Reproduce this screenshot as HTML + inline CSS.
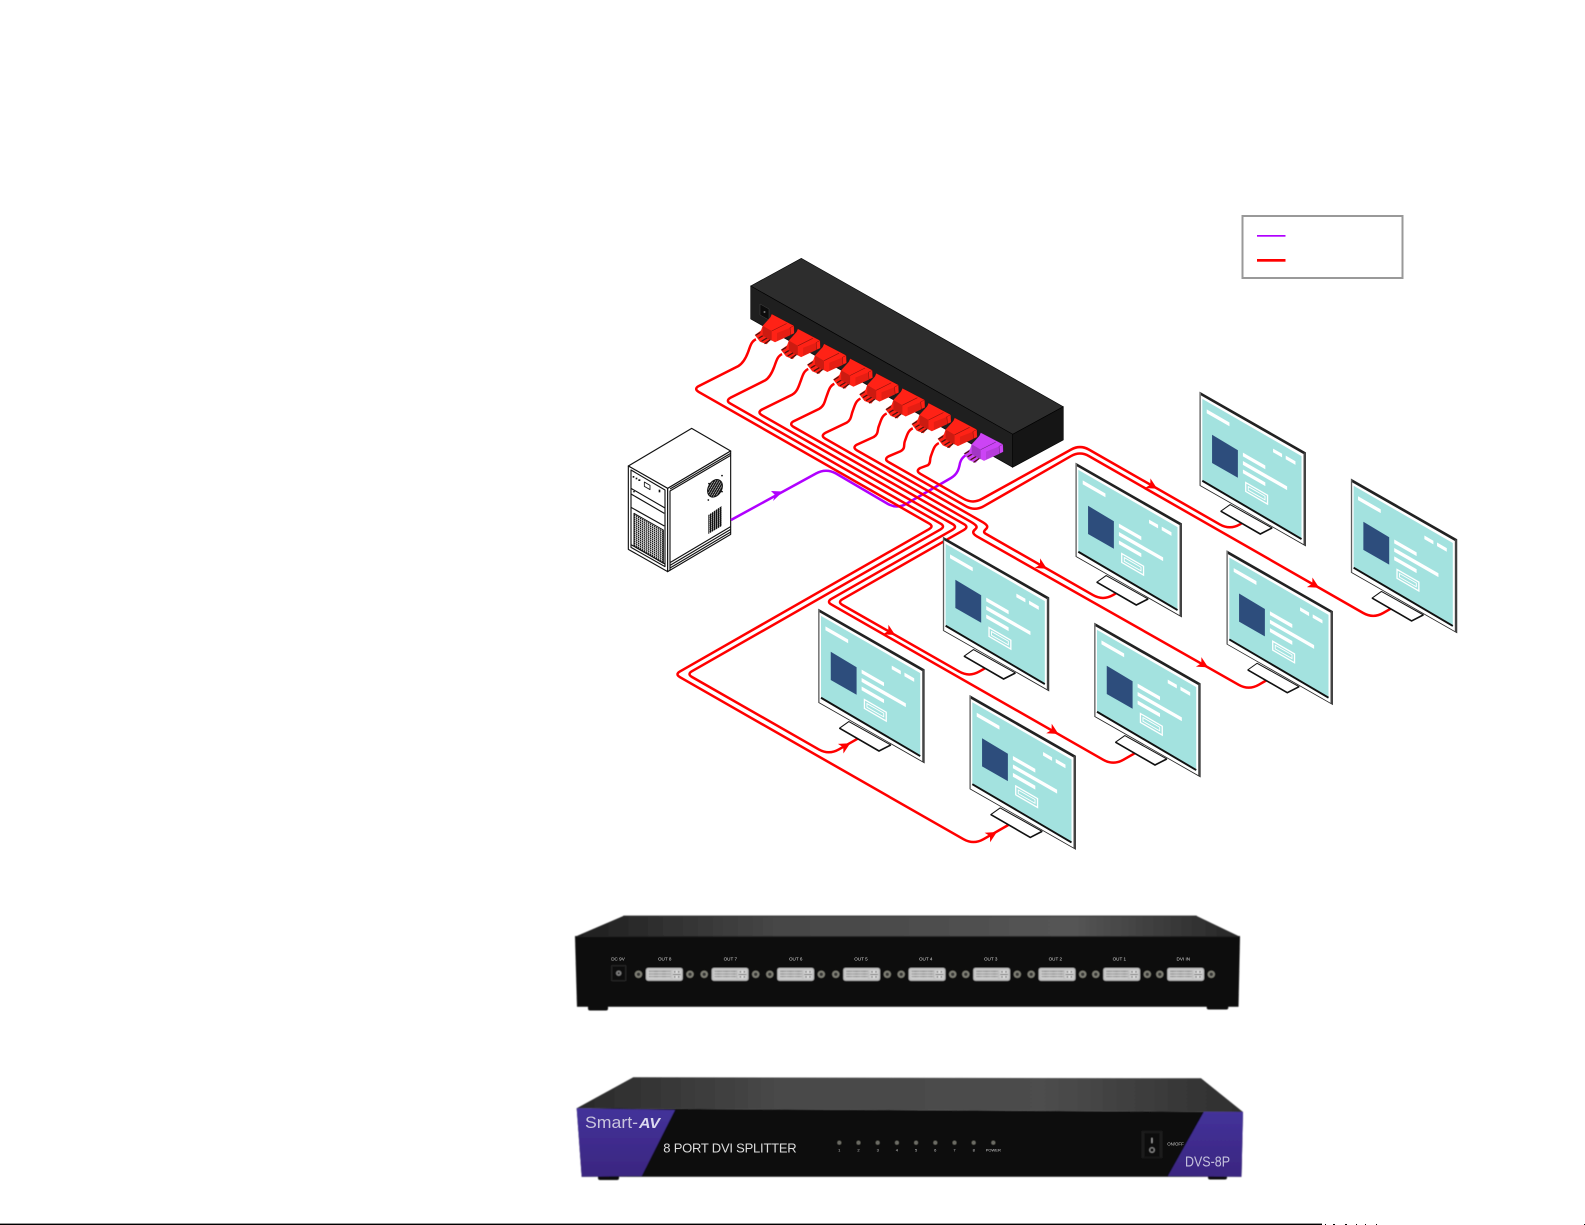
<!DOCTYPE html>
<html><head><meta charset="utf-8"><title>8 Port DVI Splitter</title>
<style>html,body{margin:0;padding:0;background:#fff}svg{display:block}text{font-family:"Liberation Sans",sans-serif}</style></head>
<body>
<svg xmlns="http://www.w3.org/2000/svg" width="1585" height="1225" viewBox="0 0 1585 1225">
<defs>
<filter id="soft" x="-2%" y="-5%" width="104%" height="110%"><feGaussianBlur stdDeviation=".45"/></filter>
<pattern id="grid" width="6" height="6" patternUnits="userSpaceOnUse" patternTransform="skewY(30)"><rect width="6" height="6" fill="#fff"/><rect width="4.3" height="4.3" fill="#111"/></pattern>
<pattern id="grid2" width="6" height="6" patternUnits="userSpaceOnUse" patternTransform="skewY(-30)"><rect width="6" height="6" fill="#fff"/><rect width="4.3" height="6" fill="#111"/><rect y="3" width="6" height="1" fill="#111"/></pattern>
<pattern id="pins" width="1.6" height="2.6" patternUnits="userSpaceOnUse"><rect width="1.6" height="2.6" fill="#ddd"/><rect width=".8" height="1.6" fill="#444"/></pattern>

<g id="monitor">
<polygon points="30,111.7 20.7,118.3 60,141 71.7,135" fill="#fff" stroke="#111" stroke-width="1" stroke-linejoin="round"/>
<polyline points="20.7,118.3 60,141 71.7,135" fill="none" stroke="#111" stroke-width="1.6" stroke-linejoin="round"/>
<polygon points="0,0 105,60 105,152.7 0,92.7" fill="#fff" stroke="#222" stroke-width=".8"/>
<polygon points="0,0 105,60 105,62.6 0,2.6" fill="#222"/>
<polygon points="103,60 105,60 105,152.7 103,151.5" fill="#444"/>
<polygon points="0,0 .9,0 .9,93 0,92.7" fill="#777"/>
<polygon points="2.3,6.5 101,63.5 101,147 2.3,89" fill="#a3e2df"/>
<line x1="2.3" y1="88" x2="101" y2="146" stroke="#111" stroke-width="1.9"/>
<polygon points="12,42.3 37.7,57.7 37.7,85 12,70.3" fill="#2d4d7c"/>
<polygon points="6.7,17 29.3,30 29.3,33.8 6.7,20.8" fill="#fff"/>
<polygon points="42.7,60 65,72.8 65,76.6 42.7,63.8" fill="#fff"/>
<polygon points="42.7,68.4 86.7,93.6 86.7,97.4 42.7,72.2" fill="#fff"/>
<polygon points="42.7,76.8 65,89.6 65,93.4 42.7,80.6" fill="#fff"/>
<polygon points="72.7,56 81.7,61.2 81.7,64.8 72.7,59.6" fill="#fff"/>
<polygon points="85.3,63 95,68.6 95,72.2 85.3,66.6" fill="#fff"/>
<polygon points="45.5,89.8 67.2,102.4 67.2,111.2 45.5,98.6" fill="none" stroke="#fff" stroke-width="1.3"/>
<polygon points="48,93.8 64.7,103.4 64.7,107 48,97.4" fill="none" stroke="#fff" stroke-width=".9"/>
</g>

<g id="conn">
<polygon points="4.7,30 11.3,25.3 20,30.7 20.7,34.7 16.7,39.3 10,36.7" fill="currentColor"/>
<g stroke="#4a1510" stroke-width="1.3" stroke-linecap="round"><line x1="6" y1="30" x2="11" y2="27"/><line x1="9" y1="33" x2="14" y2="30"/><line x1="12" y1="36" x2="17" y2="33"/><line x1="15" y1="38.5" x2="20" y2="35"/></g>
<polygon points="21.7,9 44,20.7 44.3,28.3 40.7,30 38,24 20,13" fill="currentColor" stroke="#000" stroke-opacity=".4" stroke-width=".4"/>
<polygon points="20.7,12 40,22.7 40.7,30 25,37.3 12.7,30.7 10,28.3 12.7,20.7" fill="currentColor"/>
<polygon points="12.7,20.7 21.7,26 21.7,36 12.7,30.7" fill="#000" opacity=".2"/>
<polygon points="27,28 40.3,22.8 40.7,30 27,36" fill="#000" opacity=".1"/>
<polyline points="21.7,26 36.7,18.5" stroke="#000" stroke-opacity=".45" stroke-width=".6" fill="none"/>
<polyline points="44,20.7 40,22.7 40.7,30" stroke="#000" stroke-opacity=".45" stroke-width=".5" fill="none"/>
</g>

<g id="port">
<rect width="36.7" height="12.7" rx="2.2" fill="#c4c4c4"/>
<rect x="2.5" y="2.4" width="22" height="8" fill="url(#pins)"/>
<rect x="27" y="2.4" width="7.5" height="8" fill="#ddd"/>
<rect x="27" y="6" width="7.5" height=".9" fill="#444"/>
<rect x="28" y="3.2" width="1.4" height="1.4" fill="#444"/><rect x="32" y="3.2" width="1.4" height="1.4" fill="#444"/>
<rect x="28" y="8.2" width="1.4" height="1.4" fill="#444"/><rect x="32" y="8.2" width="1.4" height="1.4" fill="#444"/>
<circle cx="-7.5" cy="6.3" r="3.6" fill="#85857a"/><circle cx="-7.5" cy="6.3" r="1.8" fill="#333"/>
<circle cx="44" cy="6.3" r="3.6" fill="#85857a"/><circle cx="44" cy="6.3" r="1.8" fill="#333"/>
</g>
<g id="led"><circle cx="0" cy="0" r="1.7" fill="#8a8a80"/><circle cx="0" cy="0" r=".7" fill="#333"/></g>
<linearGradient id="topg" x1="0" x2="1" y1="0" y2="0"><stop offset="0" stop-color="#2a2a2a"/><stop offset=".3" stop-color="#484848"/><stop offset=".7" stop-color="#4d4d4d"/><stop offset="1" stop-color="#2e2e2e"/></linearGradient>
<linearGradient id="topb" x1="0" x2="1" y1="0" y2="0"><stop offset="0" stop-color="#1e1e1e"/><stop offset=".3" stop-color="#464646"/><stop offset=".75" stop-color="#555"/><stop offset="1" stop-color="#262626"/></linearGradient>
<linearGradient id="pur" x1="0" x2="0" y1="0" y2="1"><stop offset="0" stop-color="#44329a"/><stop offset="1" stop-color="#3a2680"/></linearGradient>
</defs>

<!-- legend -->
<rect x="1242.5" y="216" width="160" height="62" fill="#fff" stroke="#999" stroke-width="2"/>
<rect x="1257" y="235" width="28.5" height="1.7" fill="#b000ff"/>
<rect x="1257" y="259" width="28.5" height="2.7" fill="#ff0000"/>

<!-- splitter -->
<polygon points="750.7,286 801.3,258.3 1063.3,406.7 1012.7,434.3" fill="#2d2d2d" stroke="#000" stroke-width=".6"/>
<polygon points="750.7,286 1012.7,434.3 1012.7,467.3 750.7,319" fill="#1f1f1f" stroke="#000" stroke-width=".6"/>
<polygon points="1012.7,434.3 1063.3,406.7 1063.3,440 1012.7,467.3" fill="#151515" stroke="#000" stroke-width=".6"/>
<polygon points="760,304 769,309 769,320 760,315" fill="#0c0c0c" stroke="#444" stroke-width=".5"/>
<circle cx="764.5" cy="312" r="1" fill="#777"/>

<!-- PC tower -->
<g transform="translate(620,420) scale(.33333)" stroke="#111" stroke-width="3.4" fill="#fff" stroke-linejoin="round">
<polygon points="25,138 215,25 332,93 143,205"/>
<polygon points="25,138 143,205 143,455 25,388"/>
<polygon points="143,205 332,93 332,343 143,455"/>
<polyline fill="none" points="150,212 150,452"/>
<polyline fill="none" points="150,207 332,100"/>
<polyline fill="none" points="150,213 332,106"/>
<polyline fill="none" points="150,428 332,320"/>
<polyline fill="none" points="150,436 332,328"/>
<polyline fill="none" points="150,444 332,336"/>
<polygon fill="none" points="33,150 135,210 135,440 33,382"/>
<polyline fill="none" points="33,205 135,264"/>
<polyline fill="none" points="33,222 133,280"/>
<polyline fill="none" points="33,262 133,318"/>
<polygon points="42,280 130,330 130,430 42,378" fill="url(#grid)" stroke-width="3"/>
<polyline fill="none" points="33,374 135,432"/>
<polygon points="73,186 90,196 90,209 73,199" stroke-width="2.5"/>
<g fill="#111" stroke="none"><rect x="38" y="168" width="5" height="5"/><rect x="47" y="173" width="5" height="5"/><rect x="55" y="178" width="6" height="5"/><rect x="116" y="209" width="5" height="8"/><circle cx="42" cy="215" r="2.5"/></g>
<ellipse cx="285" cy="205" rx="20" ry="28" transform="rotate(30 285 205)" fill="url(#grid2)" stroke-width="3"/>
<g fill="#111" stroke="none"><circle cx="267" cy="191" r="2.6"/><circle cx="306" cy="167" r="2.6"/><circle cx="306" cy="215" r="2.6"/><circle cx="265" cy="240" r="2.6"/></g>
<polygon points="265,285 305,258 305,318 265,342" fill="url(#grid2)" stroke="none"/>
</g>

<!-- purple cable -->
<path d="M731,520 L816,473.5 Q826,468 836,473.5 L888,504 Q897,509 906,504 L951,478 C958,474 959,468 960,463 C961,459 963,457 966,455" fill="none" stroke="#b000ff" stroke-width="2.5"/>
<polygon points="783,491.5 771,491 775,495 773,501" fill="#b000ff"/>

<!-- red cables -->
<g fill="none" stroke="#ff0000" stroke-width="2.5" stroke-linejoin="round">
<path d="M756,339.3 C751,341.3 750,347.3 748,352.3 C746.5,356.3 743,363.3 738,366.3 L698.7,386.1 Q693.7,389 698.7,391.9 L929,523.4 Q934,526.3 929,529.2 L680,671.4 Q675,674.3 680,677.2 L963.5,839.2 Q973.5,844.9 983.5,839.2 L1008.3,825"/>
<path d="M782.1,354.1 C777.1,356.1 776.1,362.1 774.1,367.1 C772.6,371.1 770.1,377.4 765.1,380.4 L730.4,397.8 Q725.4,400.7 730.4,403.6 L940.5,523.6 Q945.5,526.5 940.5,529.4 L692,671.2 Q687,674.1 692,677 L818.8,749.4 Q828.8,755.1 838.8,749.4 L858.3,738.3"/>
<path d="M808.3,369 C803.3,371 802.3,377 800.3,382 C798.8,386 797.3,391.6 792.3,394.6 L762,409.5 Q757,412.4 762,415.3 L952.5,524 Q957.5,526.9 952.5,529.8 L831.5,598.8 Q826.5,601.7 831.5,604.6 L1103.3,759.8 Q1113.3,765.5 1123.3,759.8 L1134.7,753.3"/>
<path d="M834.4,383.8 C829.4,385.8 828.4,391.8 826.4,396.8 C824.9,400.8 824.4,405.7 819.4,408.7 L793.7,421.2 Q788.7,424.1 793.7,427 L963.9,524.1 Q968.9,527 963.9,529.9 L842.5,599.2 Q837.5,602.1 842.5,605 L959.2,671.6 Q969.2,677.3 979.2,671.6 L985,668.3"/>
<path d="M860.5,398.6 C855.5,400.6 854.5,406.6 852.5,411.6 C851,415.6 851.5,419.8 846.5,422.8 L825.3,432.9 Q820.3,435.8 825.3,438.7 L970,521.3 C977,525.3 978,527 975,529.5 C972,532 973,534 977,536.4 L1238.7,684.8 Q1248.7,690.5 1258.7,684.8 L1267,680"/>
<path d="M886.7,413.5 C881.7,415.5 880.7,421.5 878.7,426.5 C877.2,430.5 878.7,434 873.7,437 L857,444.6 Q852,447.5 857,450.4 L981,521.2 C988,525 988.5,527 985.5,529.5 C983,532 984,533 987,534.5 L1093,595.1 Q1103,600.8 1113,595.1 L1116,593.3"/>
<path d="M912.8,428.3 C907.8,430.3 906.8,436.3 904.8,441.3 C903.3,445.3 905.8,448.1 900.8,451.1 L888.6,456.3 Q883.6,459.2 888.6,462.1 L965.8,506.2 Q974.8,511.3 983.8,506.2 L1071,456.1 Q1080,451 1089,456.1 L1363.2,613 Q1373.2,618.7 1383.2,613 L1390.7,608.7"/>
<path d="M938.9,443.1 C933.9,445.1 932.9,451.1 930.9,456.1 C929.4,460.1 931,463 927.9,465.2 L920.3,468 Q915.3,470.9 920.3,473.8 L964,498.9 Q973,504 982,498.9 L1071,449.6 Q1080,444.5 1089,449.6 L1219.8,524.4 Q1229.8,530.1 1239.8,524.4 L1241.7,523.3"/>
</g>
<g fill="#ff0000">
<polygon points="6,0 -5,-5.5 -2,0 -5,5.5" transform="translate(1152,485.7) rotate(30)"/>
<polygon points="6,0 -5,-5.5 -2,0 -5,5.5" transform="translate(1314,584.8) rotate(30)"/>
<polygon points="6,0 -5,-5.5 -2,0 -5,5.5" transform="translate(1041.7,565.7) rotate(30)"/>
<polygon points="6,0 -5,-5.5 -2,0 -5,5.5" transform="translate(1203,664.4) rotate(30)"/>
<polygon points="6,0 -5,-5.5 -2,0 -5,5.5" transform="translate(1053.3,731) rotate(30)"/>
<polygon points="6,0 -5,-5.5 -2,0 -5,5.5" transform="translate(890,632) rotate(30)"/>
<polygon points="6,0 -5,-5.5 -2,0 -5,5.5" transform="translate(845,746.2) rotate(-30)"/>
<polygon points="6,0 -5,-5.5 -2,0 -5,5.5" transform="translate(991.7,835) rotate(-30)"/>
</g>

<!-- connectors -->
<g style="color:#ff2216">
<use href="#conn" transform="translate(750,305)"/>
<use href="#conn" transform="translate(776.1,319.8)"/>
<use href="#conn" transform="translate(802.3,334.7)"/>
<use href="#conn" transform="translate(828.4,349.5)"/>
<use href="#conn" transform="translate(854.5,364.3)"/>
<use href="#conn" transform="translate(880.7,379.2)"/>
<use href="#conn" transform="translate(906.8,394)"/>
<use href="#conn" transform="translate(932.9,408.8)"/>
</g>
<use href="#conn" transform="translate(959,423.6)" style="color:#cc44f5"/>

<!-- monitors -->
<use href="#monitor" transform="translate(1200,392.3) scale(1.005)"/>
<use href="#monitor" transform="translate(1351.3,479.2) scale(1.005)"/>
<use href="#monitor" transform="translate(1076,463.3) scale(1.005)"/>
<use href="#monitor" transform="translate(1227,551) scale(1.005)"/>
<use href="#monitor" transform="translate(943.3,537.3) scale(1.005)"/>
<use href="#monitor" transform="translate(1094.7,623.3) scale(1.005)"/>
<use href="#monitor" transform="translate(818.7,609.3) scale(1.005)"/>
<use href="#monitor" transform="translate(970,695.7) scale(1.005)"/>

<!-- rear photo -->
<g filter="url(#soft)">
<rect x="588" y="1004" width="20" height="6.5" rx="2" fill="#111"/>
<rect x="1206.7" y="1004" width="21.6" height="5.5" rx="2" fill="#111"/>
<polygon points="623.3,916 1196.7,916 1240,936.7 575,936.7" fill="url(#topb)"/>
<rect x="623.3" y="915.6" width="573.4" height="1" fill="#2a2a2a"/>
<polygon points="575,936.7 1240,936.7 1238.5,1006.7 577,1006.7" fill="#0d0d0d"/>
<rect x="575" y="936" width="665" height="1" fill="#222"/>
<rect x="611.7" y="965.7" width="14" height="15" fill="#0a0a0a" stroke="#333" stroke-width=".6"/>
<circle cx="618.7" cy="973.2" r="2.6" fill="#888"/><circle cx="618.7" cy="973.2" r="1.1" fill="#111"/>
<use href="#port" transform="translate(646,968)"/>
<use href="#port" transform="translate(711.7,968)"/>
<use href="#port" transform="translate(777.3,968)"/>
<use href="#port" transform="translate(843.3,968)"/>
<use href="#port" transform="translate(908.7,968)"/>
<use href="#port" transform="translate(973.3,968)"/>
<use href="#port" transform="translate(1038.7,968)"/>
<use href="#port" transform="translate(1103.3,968)"/>
<use href="#port" transform="translate(1167.3,968)"/>
</g>
<g fill="#d8d8d8" font-size="4.6" text-anchor="middle">
<text x="618" y="960.5">DC 9V</text>
<text x="664.7" y="960.5">OUT 8</text>
<text x="730.3" y="960.5">OUT 7</text>
<text x="795.7" y="960.5">OUT 6</text>
<text x="861" y="960.5">OUT 5</text>
<text x="925.7" y="960.5">OUT 4</text>
<text x="990.7" y="960.5">OUT 3</text>
<text x="1055.3" y="960.5">OUT 2</text>
<text x="1119.3" y="960.5">OUT 1</text>
<text x="1183.3" y="960.5">DVI IN</text>
</g>

<!-- front photo -->
<g filter="url(#soft)">
<rect x="598" y="1174" width="21" height="6" rx="2" fill="#111"/>
<rect x="1208" y="1174" width="19" height="5.5" rx="2" fill="#111"/>
<polygon points="633.3,1077.3 1201,1078.3 1243,1112 576.7,1108.3" fill="url(#topg)"/>
<polygon points="576.7,1108.3 1243,1112 1241.5,1176.7 581.7,1176.7" fill="#0d0d0d"/>
<polygon points="576.7,1108.3 675,1110 641.7,1176 581.7,1176.7" fill="url(#pur)"/>
<polygon points="1204,1111.7 1243,1112 1241.5,1176.7 1168,1176" fill="url(#pur)"/>
<g transform="translate(0,1142.7)">
<use href="#led" x="839.3"/><use href="#led" x="858.5"/><use href="#led" x="877.7"/><use href="#led" x="896.9"/><use href="#led" x="916.1"/><use href="#led" x="935.3"/><use href="#led" x="954.5"/><use href="#led" x="973.7"/><use href="#led" x="993.3"/>
</g>
<rect x="1141.5" y="1131" width="21" height="27" fill="#1a1a1a"/>
<rect x="1144.5" y="1133" width="15" height="24" fill="#080808"/>
<rect x="1151.5" y="1138" width=".9" height="5" fill="#bbb"/>
<circle cx="1152" cy="1150" r="2.3" fill="none" stroke="#bbb" stroke-width=".7"/>
</g>
<text x="585" y="1128" font-size="16.5" fill="#c9c5dd" textLength="53" lengthAdjust="spacingAndGlyphs">Smart-</text>
<text x="639" y="1128" font-size="15" font-weight="bold" font-style="italic" fill="#dcdaf0" textLength="21" lengthAdjust="spacingAndGlyphs">AV</text>
<text x="663.3" y="1152.7" font-size="13" fill="#dddddd" textLength="133.4" lengthAdjust="spacing">8 PORT DVI SPLITTER</text>
<g fill="#cccccc" font-size="4" text-anchor="middle">
<text x="839.3" y="1151.5">1</text><text x="858.5" y="1151.5">2</text><text x="877.7" y="1151.5">3</text><text x="896.9" y="1151.5">4</text><text x="916.1" y="1151.5">5</text><text x="935.3" y="1151.5">6</text><text x="954.5" y="1151.5">7</text><text x="973.7" y="1151.5">8</text><text x="993.3" y="1151.5">POWER</text>
<text x="1175.5" y="1145.5" font-size="4.4">ON/OFF</text>
</g>
<text x="1185" y="1166.7" font-size="15" fill="#c5c2dd" textLength="45" lengthAdjust="spacingAndGlyphs">DVS-8P</text>

<!-- bottom rule -->
<rect x="0" y="1223.6" width="1322" height="1.4" fill="#000"/>
<g fill="#000"><rect x="1325" y="1224" width="1" height="1"/><rect x="1333" y="1224" width="2" height="1"/><rect x="1345" y="1224" width="2" height="1"/><rect x="1356" y="1224" width="1" height="1"/><rect x="1365" y="1224" width="1" height="1"/><rect x="1376" y="1224" width="1" height="1"/><rect x="1584" y="1224" width="1" height="1"/></g>
</svg>
</body></html>
